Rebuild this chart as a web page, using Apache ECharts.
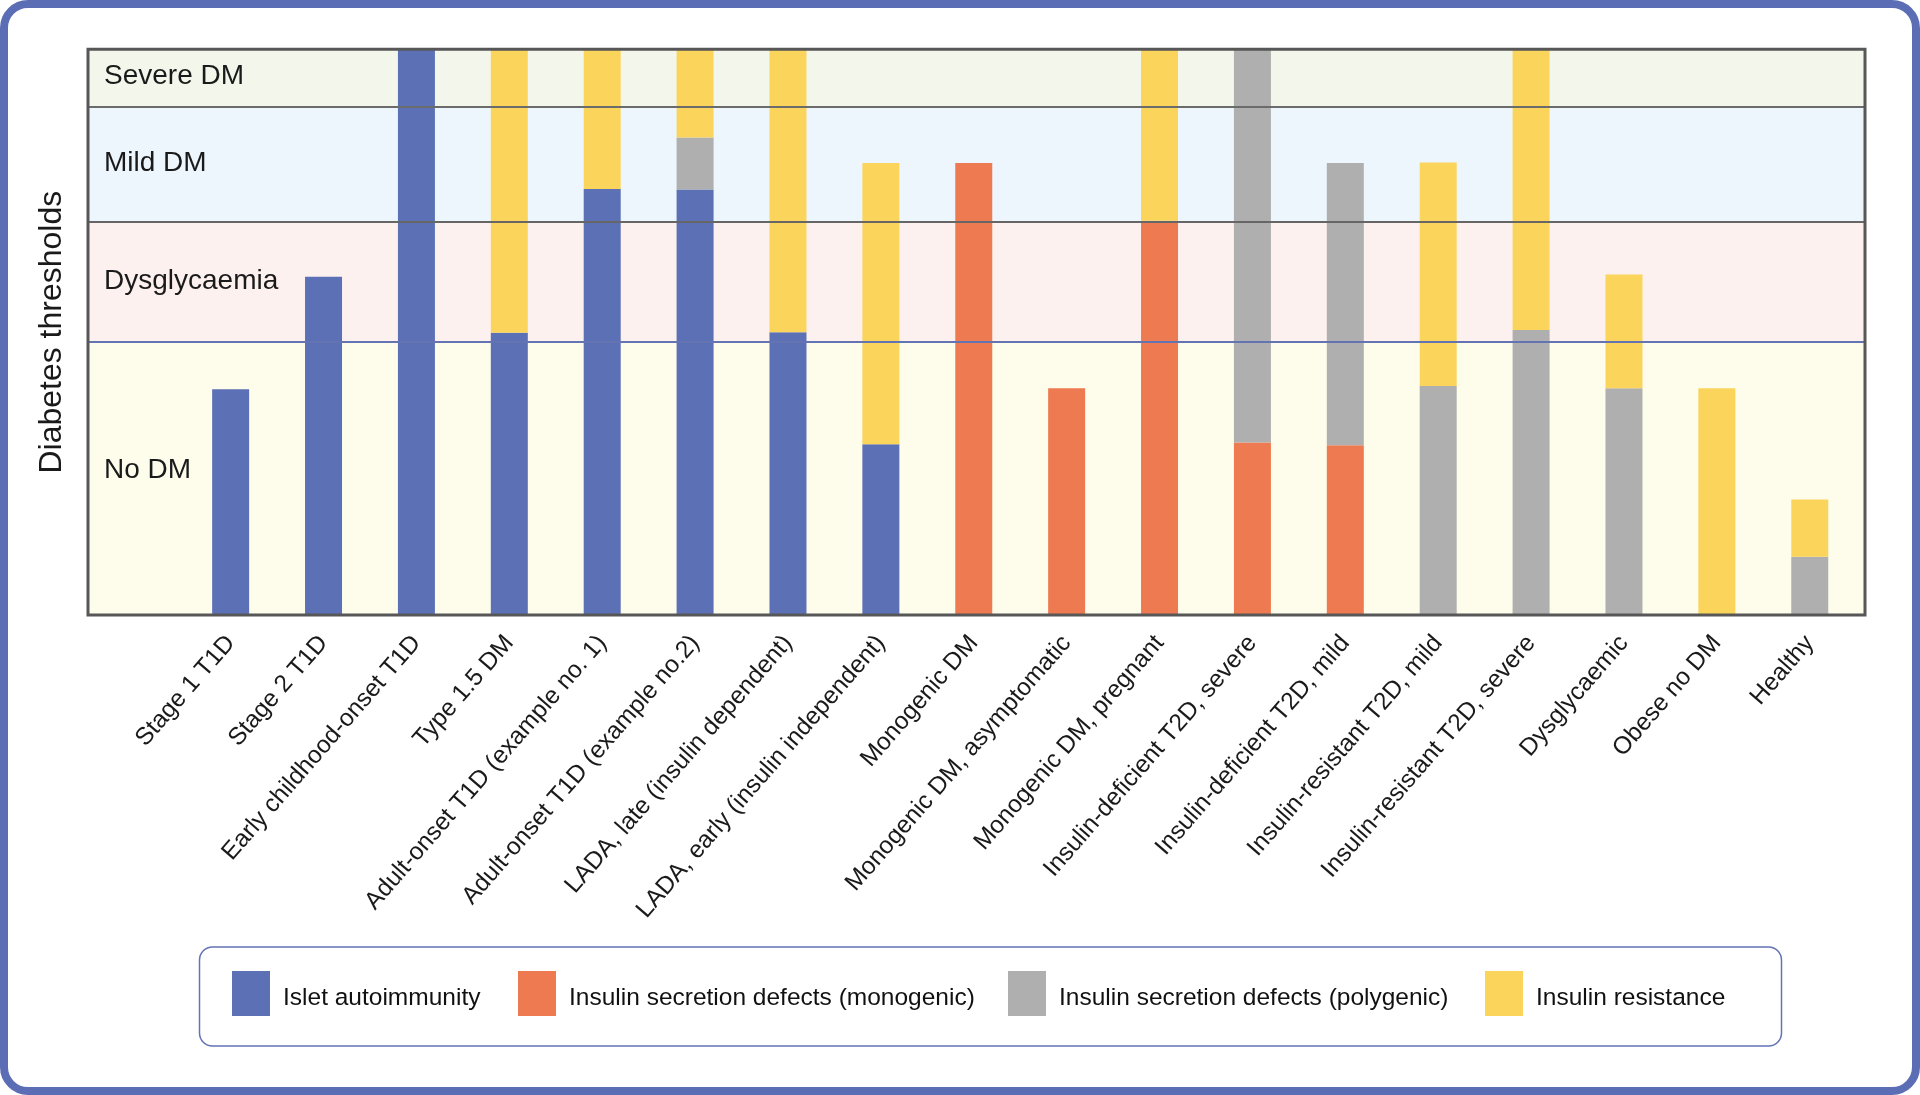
<!DOCTYPE html>
<html>
<head>
<meta charset="utf-8">
<script src="https://cdn.jsdelivr.net/npm/echarts@6/dist/echarts.min.js"></script>
<style>
html,body{margin:0;padding:0;background:#fff;}
#chart{width:1920px;height:1095px;}
</style>
</head>
<body>
<div id="chart"></div>
<script>
// ---- data ----
var categories = [
  'Stage 1 T1D', 'Stage 2 T1D', 'Early childhood-onset T1D', 'Type 1.5 DM',
  'Adult-onset T1D (example no. 1)', 'Adult-onset T1D (example no.2)',
  'LADA, late (insulin dependent)', 'LADA, early (insulin independent)',
  'Monogenic DM', 'Monogenic DM, asymptomatic', 'Monogenic DM, pregnant',
  'Insulin-deficient T2D, severe', 'Insulin-deficient T2D, mild',
  'Insulin-resistant T2D, mild', 'Insulin-resistant T2D, severe',
  'Dysglycaemic', 'Obese no DM', 'Healthy'
];
var isletAutoimmunity = [39.9, 59.8, 100, 49.9, 75.3, 75.2, 50.0, 30.2, 0, 0, 0, 0, 0, 0, 0, 0, 0, 0];
var monogenicDefects  = [0, 0, 0, 0, 0, 0, 0, 0, 79.9, 40.1, 69.7, 30.5, 30.0, 0, 0, 0, 0, 0];
var polygenicDefects  = [0, 0, 0, 0, 0, 9.2, 0, 0, 0, 0, 0, 69.5, 49.9, 40.5, 50.4, 40.1, 0, 10.3];
var insulinResistance = [0, 0, 0, 50.1, 24.7, 15.6, 50.0, 49.7, 0, 0, 30.3, 0, 0, 39.5, 49.6, 20.1, 40.1, 10.1];

var seriesNames = ['Islet autoimmunity', 'Insulin secretion defects (monogenic)',
                   'Insulin secretion defects (polygenic)', 'Insulin resistance'];

// threshold bands (bottom to top)
var bandNames = ['No DM', 'Dysglycaemia', 'Mild DM', 'Severe DM'];
var bandEdges = [0, 48.3, 69.6, 89.9, 100];

// ---- styles ----
var barColors = ['#5b70b5', '#ee7a51', '#afafaf', '#fbd45c'];
var bandColors = ['#fefdec', '#fdf1f0', '#eef6fd', '#f3f7eb'];
var bandLabelOffsets = [[0, -8], [0, 0], [0, -1], [0, -2]];
var sepColors = ['#6474b2', '#666666', '#6b6b6b'];
var FONT = '"Liberation Sans", Arial, Helvetica, sans-serif';

var chart = echarts.init(document.getElementById('chart'), null, {renderer: 'canvas'});

var areaData = bandNames.map(function (n, i) {
  return [{
    name: n, yAxis: bandEdges[i],
    itemStyle: {color: bandColors[i]},
    label: {offset: bandLabelOffsets[i]}
  }, {yAxis: bandEdges[i + 1]}];
});
var lineData = [];
for (var i = 1; i < bandEdges.length - 1; i++) {
  lineData.push({yAxis: bandEdges[i], lineStyle: {color: sepColors[i - 1]}});
}

var dataSets = [isletAutoimmunity, monogenicDefects, polygenicDefects, insulinResistance];
var barSeries = seriesNames.map(function (n, i) {
  return {
    name: n, type: 'bar', stack: 'total',
    xAxisIndex: 1, yAxisIndex: 1,
    barWidth: 37, z: 3,
    itemStyle: {color: barColors[i]},
    emphasis: {disabled: true},
    data: dataSets[i]
  };
});

var legendLefts = [232, 518, 1008, 1485];
var legends = seriesNames.map(function (n, i) {
  return {
    data: [{name: n, icon: 'rect'}],
    left: legendLefts[i], top: 971, padding: 0,
    itemWidth: 38, itemHeight: 45,
    selectedMode: false,
    formatter: '{t|{name}}',
    textStyle: {
      fontSize: 24.5, color: '#111', fontFamily: FONT, padding: [0, 0, 0, 8],
      rich: {t: {fontSize: 24.5, color: '#111', fontFamily: FONT, padding: [9, 0, 0, 0]}}
    }
  };
});

var option = {
  animation: false,
  backgroundColor: '#ffffff',
  textStyle: {fontFamily: FONT},
  grid: [
    {left: 88, right: 55, top: 49.3, bottom: 480, show: true, z: 6,
     borderColor: '#575757', borderWidth: 3, backgroundColor: 'transparent'},
    {left: 184.2, right: 63.8, top: 49.3, bottom: 480}
  ],
  xAxis: [
    {gridIndex: 0, type: 'value', min: 0, max: 1, show: false},
    {gridIndex: 1, type: 'category', data: categories,
     axisLine: {show: false}, axisTick: {show: false},
     axisLabel: {interval: 0, rotate: 49, fontSize: 24.5, color: '#1a1a1a', margin: 24, fontFamily: FONT}}
  ],
  yAxis: [
    {gridIndex: 0, type: 'value', min: 0, max: 100,
     axisLine: {show: false}, axisTick: {show: false}, axisLabel: {show: false}, splitLine: {show: false},
     name: 'Diabetes thresholds', nameLocation: 'middle', nameGap: 20, nameRotate: 90,
     nameTextStyle: {fontSize: 32, color: '#1a1a1a', fontFamily: FONT}},
    {gridIndex: 1, type: 'value', min: 0, max: 100, show: false}
  ],
  legend: legends,
  series: [{
    type: 'line', xAxisIndex: 0, yAxisIndex: 0, data: [], z: 1, silent: true,
    markArea: {
      silent: true,
      label: {show: true, position: 'insideLeft', distance: 16, fontSize: 28, color: '#1a1a1a', fontFamily: FONT},
      data: areaData
    },
    markLine: {
      silent: true, symbol: 'none', label: {show: false},
      lineStyle: {type: 'solid', width: 2},
      data: lineData
    }
  }].concat(barSeries),
  graphic: [
    {type: 'rect', z: 100, silent: true,
     shape: {x: 4, y: 4, width: 1912, height: 1087, r: 24},
     style: {fill: 'none', stroke: '#5b6eb5', lineWidth: 8}},
    {type: 'rect', z: 0, silent: true,
     shape: {x: 199.5, y: 947, width: 1582, height: 99, r: 13},
     style: {fill: 'none', stroke: '#6373b8', lineWidth: 1.5}}
  ]
};
chart.setOption(option);
</script>
</body>
</html>
